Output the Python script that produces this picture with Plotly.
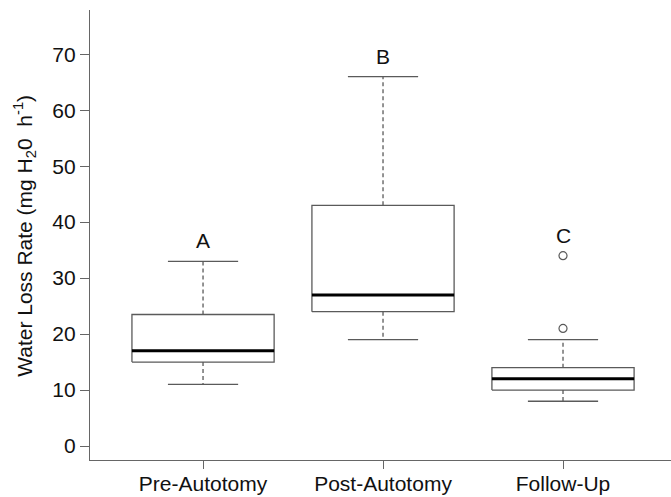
import plotly.graph_objects as go

categories = ["Pre-Autotomy", "Post-Autotomy", "Follow-Up"]
lower_whisker = [11, 19, 8]
q1 = [15, 24, 10]
median = [17, 27, 12]
q3 = [23.5, 43, 14]
upper_whisker = [33, 66, 19]
outlier_x = ["Follow-Up", "Follow-Up"]
outlier_y = [21, 34]
letters = ["A", "B", "C"]
letter_y = [36.7, 69.6, 37.7]
y_ticks = [0, 10, 20, 30, 40, 50, 60, 70]

BOX_HALF = 0.395
CAP_HALF = 0.195
GRAY = "#5a5a5a"
FONT = "Liberation Sans, Arial"

pos = {c: i + 1 for i, c in enumerate(categories)}
fig = go.Figure()

for i, c in enumerate(categories):
    x0 = pos[c]
    fig.add_trace(go.Scatter(
        x=[x0 - BOX_HALF, x0 + BOX_HALF, x0 + BOX_HALF, x0 - BOX_HALF, x0 - BOX_HALF],
        y=[q1[i], q1[i], q3[i], q3[i], q1[i]],
        mode="lines", line=dict(color=GRAY, width=1.3), hoverinfo="skip"))
    fig.add_trace(go.Scatter(
        x=[x0 - BOX_HALF, x0 + BOX_HALF], y=[median[i], median[i]],
        mode="lines", line=dict(color="black", width=3), hoverinfo="skip"))
    fig.add_trace(go.Scatter(
        x=[x0, x0, None, x0, x0],
        y=[q3[i], upper_whisker[i], None, q1[i], lower_whisker[i]],
        mode="lines", line=dict(color=GRAY, width=1.3, dash="4px,3px"), hoverinfo="skip"))
    fig.add_trace(go.Scatter(
        x=[x0 - CAP_HALF, x0 + CAP_HALF, None, x0 - CAP_HALF, x0 + CAP_HALF],
        y=[upper_whisker[i], upper_whisker[i], None, lower_whisker[i], lower_whisker[i]],
        mode="lines", line=dict(color=GRAY, width=1.3), hoverinfo="skip"))
    fig.add_annotation(x=x0, y=letter_y[i], text=letters[i], showarrow=False,
                       font=dict(size=21, color="#111", family=FONT))

fig.add_trace(go.Scatter(
    x=[pos[c] for c in outlier_x], y=outlier_y, mode="markers",
    marker=dict(symbol="circle-open", size=8, color=GRAY, line=dict(width=1.2))))

fig.add_annotation(
    xref="paper", yref="paper", x=-0.112, y=0.498, xanchor="center", yanchor="middle",
    text="Water Loss Rate (mg H<sub>2</sub>0  h<sup>-1</sup>)", textangle=-90,
    showarrow=False, font=dict(size=21, color="#111", family=FONT))

fig.update_layout(
    width=671, height=497,
    margin=dict(l=90, r=0, t=10, b=37),
    plot_bgcolor="white", paper_bgcolor="white",
    showlegend=False,
    font=dict(family=FONT, color="#111", size=21),
)
fig.update_xaxes(
    range=[0.372, 3.6], tickmode="array", tickvals=[1, 2, 3], ticktext=categories,
    showgrid=False, zeroline=False, showline=True, linecolor="#666", linewidth=1.3,
    ticks="outside", ticklen=8, tickcolor="#666", tickwidth=1.3,
    tickfont=dict(size=21), automargin=False, ticklabelstandoff=-3)
fig.update_yaxes(
    range=[-2.5, 77.9], tickmode="array", tickvals=y_ticks,
    showgrid=False, zeroline=False, showline=True, linecolor="#666", linewidth=1.3,
    ticks="outside", ticklen=9, tickcolor="#666", tickwidth=1.3,
    tickfont=dict(size=21), automargin=False)

fig.write_html("out.html", config={"displayModeBar": False},
               post_script="document.body.style.margin='0';")
